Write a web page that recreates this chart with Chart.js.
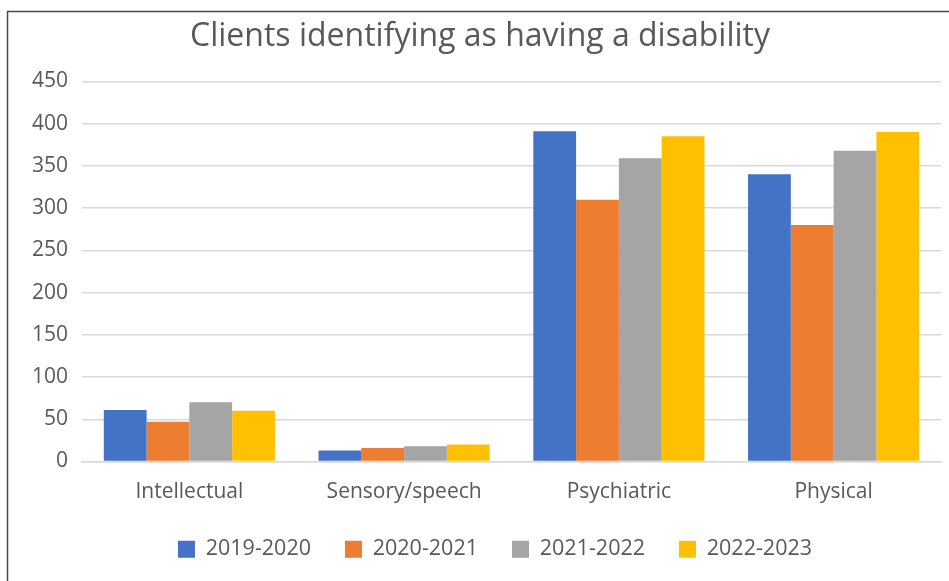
<!DOCTYPE html>
<html>
<head>
<meta charset="utf-8">
<script src="https://cdn.jsdelivr.net/npm/chart.js@4/dist/chart.umd.min.js"></script>
<style>
  html, body { margin: 0; padding: 0; background: #ffffff; }
  #wrap { width: 949px; height: 581px; position: relative; }
</style>
</head>
<body>
<div id="wrap"><canvas id="c"></canvas></div>
<script>
// Disability categories and client counts per reporting year
const categories = ['Intellectual', 'Sensory/speech', 'Psychiatric', 'Physical'];
const years = ['2019-2020', '2020-2021', '2021-2022', '2022-2023'];
const y2019_2020 = [61, 13, 391, 340];
const y2020_2021 = [47, 16, 310, 280];
const y2021_2022 = [70, 18, 359, 368];
const y2022_2023 = [60, 20, 385, 390];
const yTicks = [0, 50, 100, 150, 200, 250, 300, 350, 400, 450];

const seriesValues = [y2019_2020, y2020_2021, y2021_2022, y2022_2023];
const seriesColors = ['#4472C4', '#ED7D31', '#A5A5A5', '#FFC000'];
const textColor = '#595959';
const fontFamily = "'Open Sans', 'Noto Sans', sans-serif";

// Thin frame along the top and left edges of the chart panel
const framePlugin = {
  id: 'frame',
  afterLayout(chart) {
    // nudge the legend row slightly right of the title's centre
    chart.legend.left += 15;
    chart.legend.right += 15;
  },
  beforeDraw(chart) {
    const ctx = chart.ctx;
    ctx.save();
    ctx.fillStyle = '#ffffff';
    ctx.fillRect(0, 0, chart.width, chart.height);
    ctx.strokeStyle = '#4a4a4a';
    ctx.lineWidth = 1.5;
    ctx.beginPath();
    ctx.moveTo(7.5, chart.height);
    ctx.lineTo(7.5, 11.5);
    ctx.lineTo(chart.width, 11.5);
    ctx.stroke();
    ctx.restore();
  }
};

new Chart(document.getElementById('c'), {
  type: 'bar',
  data: {
    labels: categories,
    datasets: years.map((y, i) => ({
      label: y,
      data: seriesValues[i],
      backgroundColor: seriesColors[i],
      borderWidth: 0,
      barPercentage: 1.0,
      categoryPercentage: 0.797
    }))
  },
  options: {
    responsive: true,
    maintainAspectRatio: false,
    animation: false,
    layout: { padding: { left: 19, right: 8, top: 18, bottom: 11 } },
    plugins: {
      title: {
        display: true,
        text: 'Clients identifying as having a disability',
        color: textColor,
        font: { family: fontFamily, size: 32, weight: 'normal' },
        padding: { top: 0, bottom: 25 }
      },
      legend: {
        display: true,
        position: 'bottom',
        labels: {
          color: textColor,
          font: { family: fontFamily, size: 21.5 },
          boxWidth: 17,
          boxHeight: 17,
          padding: 34,
          useBorderRadius: false
        }
      },
      tooltip: { enabled: false }
    },
    scales: {
      x: {
        grid: { display: false, drawTicks: false },
        border: { display: true, color: '#D9D9D9', width: 1.5 },
        ticks: {
          color: textColor,
          font: { family: fontFamily, size: 21 },
          padding: 18
        },
        afterFit(scale) { scale.height = 43; }
      },
      y: {
        min: 0,
        max: 450,
        afterBuildTicks(scale) { scale.ticks = yTicks.map(v => ({ value: v })); },
        grid: { color: '#D9D9D9', lineWidth: 1.5, drawTicks: false },
        border: { display: false },
        ticks: {
          color: textColor,
          font: { family: fontFamily, size: 21 },
          padding: 14
        },
        afterFit(scale) { scale.width = 63; }
      }
    }
  },
  plugins: [framePlugin]
});
</script>
</body>
</html>
